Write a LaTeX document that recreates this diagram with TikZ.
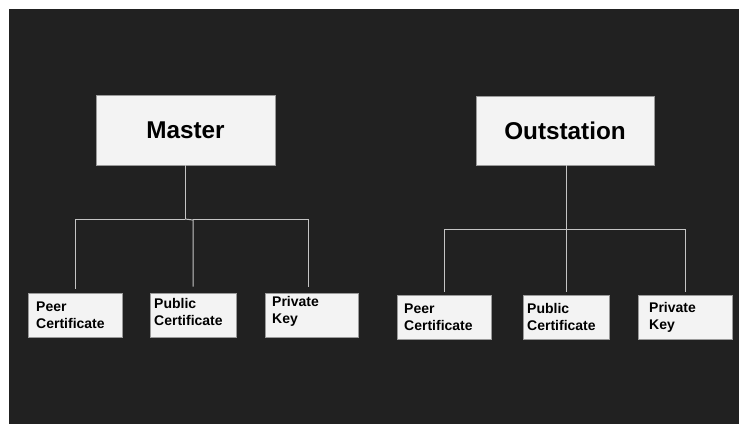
\documentclass[tikz,border=0pt]{standalone}
\usepackage{fontspec}
\setmainfont{Liberation Sans}
\definecolor{canvas}{HTML}{212121}
\definecolor{boxfill}{HTML}{F3F3F3}
\definecolor{boxline}{HTML}{9A9A9A}
\definecolor{wire}{HTML}{C4C4C4}
\begin{document}
\begin{tikzpicture}[x=1pt,y=-1pt,
  box/.style={draw=boxline,line width=0.8pt,fill=boxfill,inner sep=0pt},
  headtext/.style={font=\fontsize{24.3}{28}\selectfont\bfseries,text=black},
  leaftext/.style={font=\fontsize{14}{17}\selectfont\bfseries,text=black,align=left,anchor=west,inner sep=0pt},
  link/.style={draw=wire,line width=1pt}]
% page and dark canvas
\useasboundingbox (0,0) rectangle (740,424);
\fill[white] (0,0) rectangle (740,424);
\fill[canvas] (9,9) rectangle (739,424);

% ---- Master tree ----
\node[box,minimum width=179pt,minimum height=70pt] (master) at (185.5,130) {};
\node[headtext] (master-t) at (master.center) {Master};

\node[box,minimum width=94pt,minimum height=44pt] (mpeer) at (75,315) {};
\node[box,minimum width=86pt,minimum height=44pt] (mpub) at (193,315) {};
\node[box,minimum width=93pt,minimum height=44pt] (mpriv) at (311.5,315) {};
\node[leaftext] (mpeer-t) at (36,315) {Peer\\Certificate};
\node[leaftext] (mpub-t) at (154,311.5) {Public\\Certificate};
\node[leaftext] (mpriv-t) at (272,311.5) {Private\\Key};

\coordinate (mjoin) at (185,219);
\draw[link] (master.south -| mjoin) -- (mjoin);
\draw[link] (mjoin) -| ([yshift=4pt]mpeer.north);
\draw[link] (mjoin) -- (193,220) -| ([yshift=6pt]mpub.north);
\draw[link] (193,219.5) -| ([yshift=6pt]mpriv.north -| 308,0);

% ---- Outstation tree ----
\node[box,minimum width=178pt,minimum height=69pt] (out) at (565,130.5) {};
\node[headtext] (out-t) at (out.center) {Outstation};

\node[box,minimum width=94pt,minimum height=44pt] (opeer) at (444,317) {};
\node[box,minimum width=86pt,minimum height=44pt] (opub) at (566,317) {};
\node[box,minimum width=94pt,minimum height=44pt] (opriv) at (685,317) {};
\node[leaftext] (opeer-t) at (404,317) {Peer\\Certificate};
\node[leaftext] (opub-t) at (527,317) {Public\\Certificate};
\node[leaftext] (opriv-t) at (649,317) {Private\\Key};

\coordinate (ojoin) at (566,229);
\draw[link] (out.south -| ojoin) -- (ojoin);
\draw[link] ([yshift=3pt]opeer.north) |- (ojoin);
\draw[link] ([yshift=3pt]opub.north) -- (ojoin);
\draw[link] ([yshift=3pt]opriv.north) |- (ojoin);
\end{tikzpicture}
\end{document}
